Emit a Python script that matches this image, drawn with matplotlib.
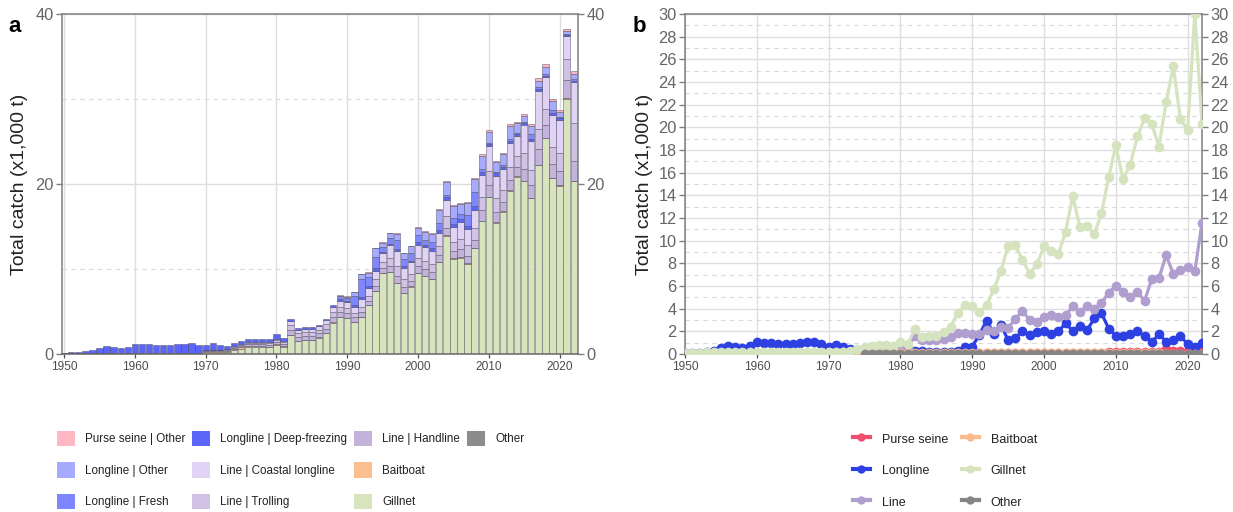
import matplotlib
matplotlib.use("Agg")
import matplotlib.pyplot as plt
import numpy as np
from matplotlib.patches import Patch
from matplotlib.lines import Line2D
from matplotlib.ticker import MultipleLocator

plt.rcParams['font.family'] = ['Liberation Sans', 'DejaVu Sans']

years = list(range(1950, 2023))

gillnet = [0.10, 0.12, 0.12, 0.15, 0.15, 0.15, 0.15, 0.15, 0.15, 0.15,
           0.15, 0.15, 0.15, 0.15, 0.15, 0.15, 0.15, 0.15, 0.15, 0.15,
           0.20, 0.20, 0.20, 0.25, 0.45, 0.60, 0.75, 0.80, 0.80, 0.75,
           1.05, 0.85, 2.20, 1.50, 1.60, 1.60, 1.90, 2.40, 3.65, 4.30,
           4.20, 3.75, 4.30, 5.70, 7.35, 9.50, 9.60, 8.30, 7.10, 7.90,
           9.50, 9.10, 8.80, 10.80, 13.90, 11.20, 11.30, 10.60, 12.40, 15.60,
           18.40, 15.40, 16.70, 19.20, 20.80, 20.30, 18.30, 22.20, 25.40, 20.70,
           19.80, 30.00, 20.30]

line_handline = [0.02] * 20 + [
    0.08, 0.08, 0.08, 0.08, 0.14, 0.18, 0.20, 0.22, 0.22, 0.24,
    0.26, 0.22, 0.55, 0.45, 0.45, 0.44, 0.46, 0.52, 0.65, 0.60,
    0.55, 0.50, 0.55, 0.50, 0.60, 0.55, 0.70, 0.85, 0.70, 0.65,
    0.75, 0.80, 0.75, 0.80, 0.80, 0.85, 0.95, 0.90, 1.00, 1.20,
    1.40, 1.25, 1.10, 1.20, 1.05, 1.40, 1.45, 1.80, 1.50, 1.60,
    1.65, 2.20, 2.30]

line_trolling = [0.0] * 20 + [
    0.05, 0.05, 0.05, 0.05, 0.12, 0.16, 0.18, 0.19, 0.19, 0.21,
    0.23, 0.19, 0.55, 0.42, 0.42, 0.43, 0.45, 0.52, 0.63, 0.60,
    0.60, 0.55, 0.65, 0.60, 0.75, 0.70, 0.90, 1.10, 0.90, 0.85,
    1.00, 1.00, 1.00, 1.00, 1.50, 1.10, 1.25, 1.20, 1.35, 1.60,
    1.60, 1.55, 1.40, 1.55, 1.30, 1.80, 1.85, 2.40, 1.90, 2.00,
    2.10, 2.50, 4.50]

line_coastal = [0.0] * 20 + [
    0.02, 0.02, 0.02, 0.02, 0.09, 0.11, 0.12, 0.14, 0.14, 0.15,
    0.16, 0.14, 0.50, 0.38, 0.38, 0.38, 0.39, 0.46, 0.57, 0.65,
    0.65, 0.70, 0.90, 0.90, 1.05, 1.05, 1.50, 1.85, 1.40, 1.30,
    1.55, 1.60, 1.55, 1.60, 1.90, 1.75, 2.00, 1.90, 2.15, 2.60,
    3.00, 2.70, 2.50, 2.75, 2.35, 3.40, 3.40, 4.50, 3.70, 3.80,
    3.95, 2.60, 4.80]

ll_deep = [0.05, 0.08, 0.12, 0.20, 0.30, 0.55, 0.75, 0.60, 0.50, 0.70,
           1.05, 1.00, 0.95, 0.90, 0.85, 0.85, 0.95, 1.05, 1.10, 0.90,
           0.65, 0.80, 0.60, 0.40, 0.35, 0.35, 0.30, 0.30, 0.30, 0.30,
           0.55, 0.40, 0.30, 0.25, 0.20, 0.20, 0.20, 0.20, 0.25, 0.25,
           0.20, 0.20, 0.25, 0.20, 0.25, 0.15, 0.15, 0.20, 0.20, 0.20,
           0.25, 0.25, 0.25, 0.30, 0.30, 0.35, 0.35, 0.40, 0.45, 0.30,
           0.25, 0.25, 0.25, 0.30, 0.25, 0.20, 0.25, 0.20, 0.20, 0.25,
           0.20, 0.15, 0.20]

ll_fresh = [0.0] * 39 + [0.30,
            0.30, 1.10, 2.10, 1.10, 1.40, 0.60, 0.75, 1.00, 0.85, 0.90,
            0.85, 0.60, 0.70, 0.90, 0.25, 0.65, 0.55, 1.30, 1.60, 0.40,
            0.10, 0.15, 0.20, 0.25, 0.20, 0.15, 0.50, 0.20, 0.20, 0.30,
            0.15, 0.10, 0.15]

ll_other = [0.0] * 39 + [0.10,
            0.15, 0.40, 0.60, 0.50, 0.95, 0.45, 0.55, 0.80, 0.65, 0.80,
            0.90, 0.90, 1.05, 1.50, 1.50, 1.50, 1.20, 1.45, 1.55, 1.55,
            1.25, 1.15, 1.30, 1.50, 1.10, 0.70, 1.00, 0.70, 0.85, 1.00,
            0.55, 0.40, 0.60]

ps_other = [0.0] * 39 + [0.05] * 11 + [0.10] * 9 + [
    0.15, 0.20, 0.15, 0.15, 0.20, 0.20, 0.20, 0.20, 0.45, 0.25, 0.25,
    0.30, 0.25, 0.35]

baitboat = [0.0] * 20 + [
    0.10, 0.10, 0.15, 0.15, 0.15, 0.15, 0.15, 0.10, 0.10, 0.10,
    0.10, 0.10] + [0.05] * 27 + [0.08] * 8 + [0.04] * 6

other = [0.0] * 25 + [0.02] * 48

for arr in [gillnet, line_handline, line_trolling, line_coastal, ll_deep,
            ll_fresh, ll_other, ps_other, baitboat, other]:
    assert len(arr) == len(years), len(arr)

# ---- stacked bars (panel a) ----
stack_labels = ['Other', 'Gillnet', 'Baitboat', 'Line | Handline', 'Line | Trolling',
                'Line | Coastal longline', 'Longline | Deep-freezing', 'Longline | Fresh',
                'Longline | Other', 'Purse seine | Other']
stack_data = [other, gillnet, baitboat, line_handline, line_trolling, line_coastal,
              ll_deep, ll_fresh, ll_other, ps_other]
stack_colors = {'Purse seine | Other': '#ffb7c3', 'Longline | Other': '#a6abff',
                'Longline | Fresh': '#7e87ff', 'Longline | Deep-freezing': '#5b65f8',
                'Line | Coastal longline': '#e1d3f5', 'Line | Trolling': '#d1c1e5',
                'Line | Handline': '#c3b2da', 'Other': '#8c8c8c', 'Baitboat': '#fcbf8f',
                'Gillnet': '#d7e4bd'}

legend_a_order = ['Purse seine | Other', 'Longline | Other', 'Longline | Fresh',
                  'Longline | Deep-freezing', 'Line | Coastal longline', 'Line | Trolling',
                  'Line | Handline', 'Baitboat', 'Gillnet', 'Other']

# ---- gear totals (panel b) ----
gear_names = ['Purse seine', 'Longline', 'Line', 'Baitboat', 'Gillnet', 'Other']
gear_colors = {'Purse seine': '#f0506f', 'Longline': '#2d40e2', 'Line': '#b09fce',
               'Baitboat': '#fbbc8c', 'Gillnet': '#d5e3bf', 'Other': '#858585'}
gear_values = {
    'Purse seine': np.array(ps_other),
    'Longline': np.array(ll_deep) + np.array(ll_fresh) + np.array(ll_other),
    'Line': np.array(line_handline) + np.array(line_trolling) + np.array(line_coastal),
    'Baitboat': np.array(baitboat),
    'Gillnet': np.array(gillnet),
    'Other': np.array(other),
}

W, H = 1233, 512
fig = plt.figure(figsize=(W / 100, H / 100), dpi=100)
axa = fig.add_axes([62 / W, 1 - 354 / H, 516 / W, 340 / H])
axb = fig.add_axes([685 / W, 1 - 354 / H, 517 / W, 340 / H])

spine_col = '#7f7f7f'
grid_col = '#dedede'
ylab_col = '#666666'
xlab_col = '#4d4d4d'

def style_axes(ax, ymax, ymajor, yminor, xlim):
    ax.set_xlim(*xlim)
    ax.set_ylim(0, ymax)
    ax.set_xticks(range(1950, 2021, 10))
    ax.yaxis.set_major_locator(MultipleLocator(ymajor))
    ax.yaxis.set_minor_locator(MultipleLocator(yminor))
    ax.grid(axis='x', which='major', color=grid_col, lw=1.0, zorder=0)
    ax.grid(axis='y', which='major', color=grid_col, lw=1.0, zorder=0)
    ax.grid(axis='y', which='minor', color='#d9d9d9', lw=0.8, ls=(0, (4, 4)), zorder=0)
    ax.set_axisbelow(True)
    for s in ax.spines.values():
        s.set_color(spine_col)
        s.set_linewidth(1.1)
    ax.spines['bottom'].set_color('#666666')
    ax.tick_params(axis='x', labelsize=8.6, colors=xlab_col, length=3, width=0.9, pad=2)
    ax.tick_params(axis='y', which='major', labelsize=11.8, labelcolor=ylab_col, color=spine_col,
                   length=4, width=1.0, right=True, labelright=True, pad=2)
    ax.tick_params(axis='y', which='minor', length=0)

style_axes(axa, 40, 20, 10, (1949.7, 2022.6))
style_axes(axb, 30, 2, 1, (1950.0, 2022.0))

# panel a bars
bottom = np.zeros(len(years))
for lab, vals in zip(stack_labels, stack_data):
    v = np.array(vals)
    lws = [0.55 if x > 0 else 0.0 for x in v]
    axa.bar(years, v, bottom=bottom, width=0.9, color=stack_colors[lab],
            edgecolor=(0.2, 0.2, 0.28, 0.5), linewidth=lws, zorder=2)
    bottom = bottom + v

# panel b lines
for g in gear_names:
    v = gear_values[g]
    v = np.where(v > 0, v, np.nan)
    axb.plot(years, v, color=gear_colors[g], lw=2.3, marker='o', markersize=7,
             markeredgewidth=0, zorder=3, clip_on=True)

for ax, xlab in [(axa, -0.066), (axb, -0.062)]:
    ax.set_ylabel('Total catch (x1,000 t)', fontsize=14, color='#222222')
    ax.yaxis.set_label_coords(xlab, 0.5)

fig.text(8 / W, 1 - 26 / H, 'a', fontsize=16, fontweight='bold', va='center', ha='left')
fig.text(633 / W, 1 - 26 / H, 'b', fontsize=16, fontweight='bold', va='center', ha='left')

# legend a (3 rows x 4 columns, filled column-wise; two empty slots at the end)
handles_a = [Patch(facecolor=stack_colors[l], edgecolor='none') for l in legend_a_order]
labels_a = list(legend_a_order)
for _ in range(2):
    handles_a.append(Patch(facecolor='none', edgecolor='none'))
    labels_a.append('')
fig.legend(handles_a, labels_a, ncol=4, loc='upper left',
           bbox_to_anchor=(57 / W, 1 - 430.5 / H), frameon=False, fontsize=8.4,
           handlelength=1.55, handleheight=1.65, handletextpad=0.85,
           columnspacing=0.6, labelspacing=1.4, borderpad=0, borderaxespad=0,
           labelcolor='#222222')

# legend b
legend_b_order = ['Purse seine', 'Longline', 'Line', 'Baitboat', 'Gillnet', 'Other']
handles_b = [Line2D([0], [0], color=gear_colors[g], lw=3, marker='o', markersize=6,
                    markeredgewidth=0) for g in legend_b_order]
fig.legend(handles_b, legend_b_order, ncol=2, loc='upper left',
           bbox_to_anchor=(853 / W, 1 - 431.5 / H), frameon=False, fontsize=9.0,
           handlelength=1.35, handleheight=1.5, handletextpad=0.95,
           columnspacing=1.1, labelspacing=1.27, borderpad=0, borderaxespad=0,
           labelcolor='#222222')

fig.savefig('out.png', dpi=100)
